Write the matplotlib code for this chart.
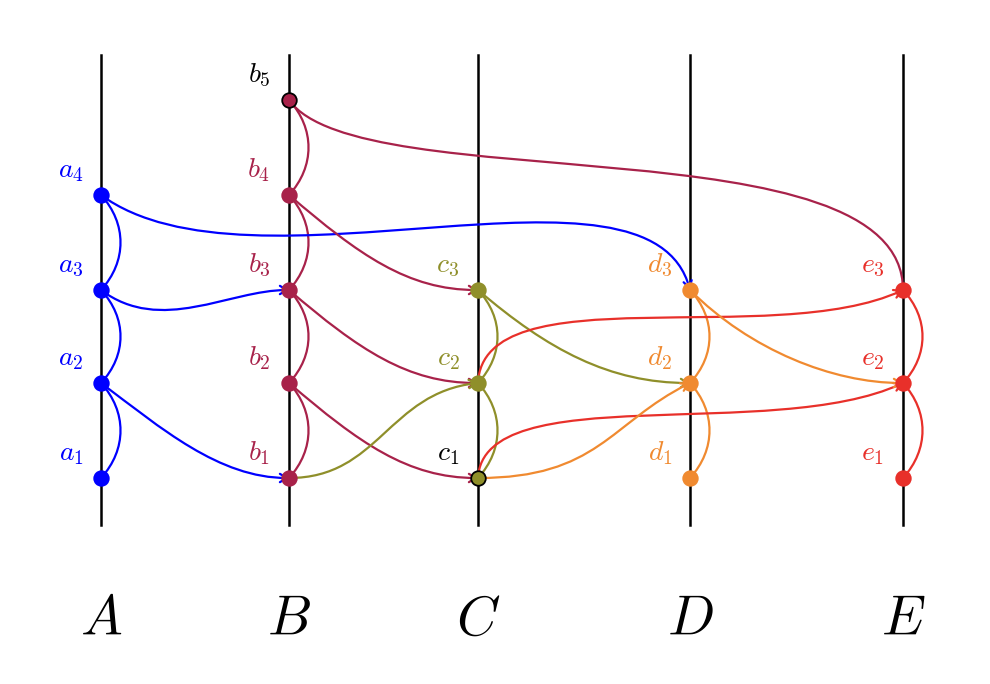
import matplotlib.pyplot as plt
from matplotlib.path import Path
from matplotlib.patches import PathPatch, FancyArrowPatch

plt.rcParams['mathtext.fontset'] = 'cm'

columns = ['A', 'B', 'C', 'D', 'E']
col_x = [101, 289, 478, 690, 903]
level_y = {1: 478, 2: 383, 3: 290, 4: 195, 5: 100}
nodes = {'a': 4, 'b': 5, 'c': 3, 'd': 3, 'e': 3}
colors = {'a': '#0000ff', 'b': '#a8224a', 'c': '#8f8f2a', 'd': '#f08a30', 'e': '#e8302a'}
black_nodes = ['b5', 'c1']

# cross-column arcs: (from, to, colour key, arrow, start handle, end handle)
arcs = [
    ('a4', 'd3', 'a', True, (150, 110), (-40, -150)),
    ('a3', 'b3', 'a', True, (60, 45), (-60, 0)),
    ('a2', 'b1', 'a', True, (60, 45), (-70, 0)),
    ('b5', 'e3', 'b', False, (70, 100), (0, -170)),
    ('b4', 'c3', 'b', True, (70, 60), (-70, 0)),
    ('b3', 'c2', 'b', True, (70, 60), (-70, 0)),
    ('b2', 'c1', 'b', True, (70, 60), (-70, 0)),
    ('b1', 'c2', 'c', True, (90, 0), (-90, 10)),
    ('c3', 'd2', 'c', True, (70, 60), (-80, 0)),
    ('c2', 'e3', 'e', True, (5, -110), (-130, 60)),
    ('c1', 'e2', 'e', True, (5, -100), (-130, 60)),
    ('c1', 'd2', 'd', True, (120, 0), (-80, 40)),
    ('d3', 'e2', 'd', True, (60, 60), (-70, 0)),
]


def pos(name):
    return col_x['abcde'.index(name[0])], level_y[int(name[1])]


fig = plt.figure(figsize=(9.9, 6.84), dpi=100)
ax = fig.add_axes([0, 0, 1, 1])
ax.set_xlim(0, 990)
ax.set_ylim(684, 0)
ax.axis('off')

for x, name in zip(col_x, columns):
    ax.plot([x, x], [55, 525], color='black', lw=1.8, zorder=1)
    ax.text(x, 620, f'${name}$', fontsize=40, ha='center', va='center')

# arcs within each column, bulging right
for k, n in nodes.items():
    x = col_x['abcde'.index(k)]
    for i in range(1, n):
        y0, y1 = level_y[i], level_y[i + 1]
        h = y0 - y1
        verts = [(x, y0), (x + 26, y0 - 0.3 * h), (x + 26, y1 + 0.3 * h), (x, y1)]
        p = Path(verts, [Path.MOVETO, Path.CURVE4, Path.CURVE4, Path.CURVE4])
        ax.add_patch(PathPatch(p, fc='none', ec=colors[k], lw=1.6, zorder=2))

for a, b, k, arrow, h0, h1 in arcs:
    x0, y0 = pos(a)
    x1, y1 = pos(b)
    verts = [(x0, y0), (x0 + h0[0], y0 + h0[1]), (x1 + h1[0], y1 + h1[1]), (x1, y1)]
    p = Path(verts, [Path.MOVETO, Path.CURVE4, Path.CURVE4, Path.CURVE4])
    if arrow:
        ax.add_patch(FancyArrowPatch(path=p, arrowstyle='->,head_length=5,head_width=3',
                                     color=colors[k], lw=1.6, zorder=2))
    else:
        ax.add_patch(PathPatch(p, fc='none', ec=colors[k], lw=1.6, zorder=2))

for k, n in nodes.items():
    for i in range(1, n + 1):
        name = f'{k}{i}'
        x, y = pos(name)
        ec = 'black' if name in black_nodes else colors[k]
        ax.scatter([x], [y], s=110, color=colors[k], edgecolors=ec, linewidths=1.3, zorder=3)
        tc = 'black' if name in black_nodes else colors[k]
        ax.text(x - 30, y - 25, f'${k}_{i}$', fontsize=20, color=tc, ha='center', va='center')

fig.savefig('out.png', dpi=100)
